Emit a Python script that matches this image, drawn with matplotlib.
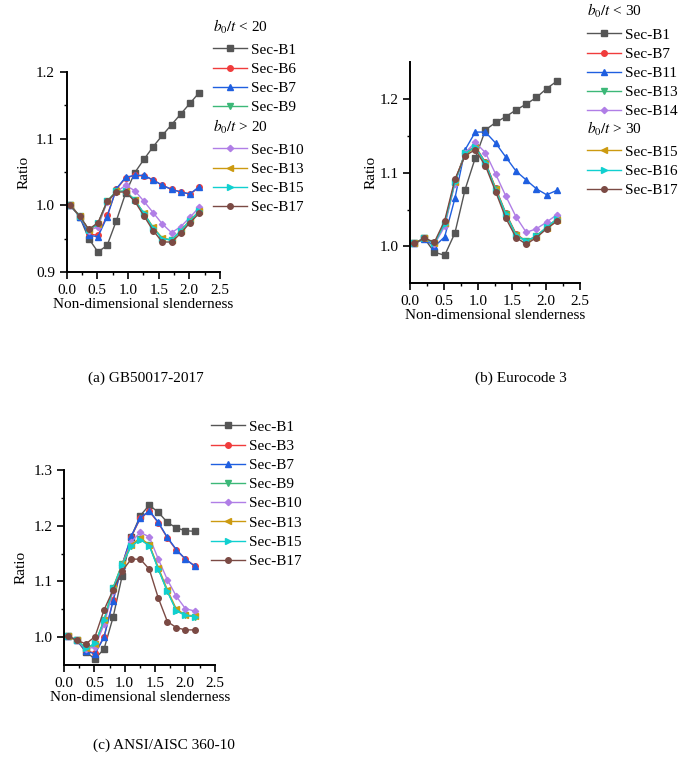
import numpy as np
import matplotlib
matplotlib.use("Agg")
import matplotlib.pyplot as plt
from matplotlib.legend import Legend

plt.rcParams['font.family'] = ['Liberation Serif', 'DejaVu Serif']
plt.rcParams['mathtext.fontset'] = 'stix'
plt.rcParams['font.size'] = 10

# slenderness values shared by all panels
xs = [0.06, 0.21, 0.36, 0.51, 0.66, 0.81, 0.96, 1.11, 1.26, 1.41, 1.56, 1.71, 1.86, 2.01, 2.16]

# (a) GB50017-2017
a_B1 = [1.000, 0.983, 0.950, 0.930, 0.940, 0.977, 1.018, 1.049, 1.069, 1.088, 1.105, 1.121, 1.137, 1.153, 1.169]
a_B6 = [1.000, 0.984, 0.957, 0.955, 0.985, 1.024, 1.041, 1.045, 1.044, 1.038, 1.030, 1.024, 1.020, 1.017, 1.027]
a_B7 = [1.000, 0.983, 0.955, 0.953, 0.983, 1.025, 1.042, 1.045, 1.045, 1.038, 1.030, 1.024, 1.020, 1.017, 1.028]
a_B9 = [1.000, 0.984, 0.963, 0.972, 1.006, 1.021, 1.021, 1.008, 0.987, 0.966, 0.950, 0.948, 0.961, 0.977, 0.990]
a_B10 = [1.000, 0.984, 0.962, 0.968, 1.005, 1.020, 1.030, 1.022, 1.006, 0.989, 0.972, 0.959, 0.968, 0.982, 0.997]
a_B13 = [1.000, 0.984, 0.963, 0.972, 1.006, 1.021, 1.021, 1.008, 0.988, 0.967, 0.951, 0.948, 0.962, 0.978, 0.991]
a_B15 = [1.000, 0.984, 0.963, 0.973, 1.006, 1.021, 1.021, 1.008, 0.988, 0.966, 0.950, 0.948, 0.962, 0.977, 0.991]
a_B17 = [1.000, 0.984, 0.964, 0.974, 1.006, 1.020, 1.020, 1.006, 0.984, 0.962, 0.945, 0.945, 0.958, 0.974, 0.988]

# (b) Eurocode 3
b_B1 = [1.004, 1.011, 0.992, 0.988, 1.018, 1.077, 1.120, 1.158, 1.168, 1.176, 1.185, 1.193, 1.202, 1.214, 1.224]
b_B7 = [1.004, 1.011, 1.004, 1.030, 1.088, 1.127, 1.136, 1.114, 1.079, 1.045, 1.017, 1.007, 1.014, 1.026, 1.037]
b_B11 = [1.004, 1.010, 1.000, 1.013, 1.065, 1.131, 1.155, 1.155, 1.140, 1.121, 1.102, 1.090, 1.078, 1.070, 1.076]
b_B13 = [1.004, 1.011, 1.004, 1.030, 1.087, 1.126, 1.135, 1.113, 1.078, 1.044, 1.016, 1.007, 1.014, 1.026, 1.037]
b_B14 = [1.004, 1.011, 1.003, 1.027, 1.085, 1.127, 1.141, 1.127, 1.098, 1.068, 1.040, 1.019, 1.024, 1.033, 1.043]
b_B15 = [1.004, 1.011, 1.005, 1.032, 1.088, 1.125, 1.134, 1.112, 1.078, 1.043, 1.016, 1.006, 1.013, 1.025, 1.036]
b_B16 = [1.004, 1.011, 1.004, 1.031, 1.087, 1.126, 1.135, 1.113, 1.077, 1.044, 1.015, 1.007, 1.014, 1.026, 1.037]
b_B17 = [1.004, 1.011, 1.006, 1.035, 1.091, 1.123, 1.131, 1.109, 1.074, 1.038, 1.012, 1.003, 1.012, 1.024, 1.034]

# (c) ANSI/AISC 360-10
c_B1 = [1.002, 0.994, 0.973, 0.961, 0.979, 1.036, 1.110, 1.180, 1.218, 1.237, 1.224, 1.206, 1.196, 1.191, 1.190]
c_B3 = [1.002, 0.994, 0.976, 0.971, 1.001, 1.066, 1.130, 1.180, 1.213, 1.226, 1.205, 1.178, 1.156, 1.140, 1.128]
c_B7 = [1.002, 0.994, 0.975, 0.970, 1.000, 1.065, 1.130, 1.181, 1.214, 1.227, 1.206, 1.179, 1.157, 1.140, 1.128]
c_B9 = [1.002, 0.994, 0.980, 0.987, 1.030, 1.089, 1.132, 1.164, 1.176, 1.165, 1.122, 1.082, 1.048, 1.039, 1.037]
c_B10 = [1.002, 0.994, 0.978, 0.983, 1.023, 1.083, 1.130, 1.171, 1.188, 1.180, 1.140, 1.103, 1.073, 1.051, 1.047]
c_B13 = [1.002, 0.994, 0.980, 0.988, 1.031, 1.088, 1.131, 1.166, 1.178, 1.166, 1.125, 1.085, 1.050, 1.040, 1.038]
c_B15 = [1.002, 0.994, 0.980, 0.989, 1.030, 1.088, 1.130, 1.163, 1.175, 1.164, 1.122, 1.082, 1.047, 1.039, 1.037]
c_B17 = [1.002, 0.994, 0.988, 1.001, 1.049, 1.085, 1.119, 1.140, 1.140, 1.122, 1.070, 1.028, 1.017, 1.013, 1.013]

gray = ('#555555', 's')
red = ('#f03c3c', 'o')
blue = ('#1f5fe0', '^')
green = ('#3cb878', 'v')
purple = ('#b07ee6', 'D')
gold = ('#cc9a10', '<')
cyan = ('#10d0d0', '>')
brown = ('#7b4a44', 'o')

fig = plt.figure(figsize=(6.8, 7.64), dpi=100)


def px_axes(x0, y0, x1, y1):
    # pixel box (top-left origin) -> figure axes
    return fig.add_axes([x0 / 680, 1 - y1 / 764, (x1 - x0) / 680, (y1 - y0) / 764])


def style(ax, ylim, yticks, yminor, labelpad=4):
    ax.set_xlim(0, 2.5)
    ax.set_ylim(*ylim)
    ax.set_xticks(np.arange(0, 2.51, 0.5))
    ax.set_xticks(np.arange(0.25, 2.5, 0.5), minor=True)
    ax.set_yticks(yticks)
    ax.set_yticks(yminor, minor=True)
    ax.xaxis.set_major_formatter(matplotlib.ticker.FormatStrFormatter('%.1f'))
    ax.yaxis.set_major_formatter(matplotlib.ticker.FormatStrFormatter('%.1f'))
    for s in ['top', 'right']:
        ax.spines[s].set_visible(False)
    for s in ['left', 'bottom']:
        ax.spines[s].set_linewidth(1.4)
    ax.tick_params(which='major', direction='out', length=5, width=1.2, labelsize=11)
    ax.tick_params(which='minor', direction='out', length=2.5, width=1.0)
    ax.set_xlabel('Non-dimensional slenderness', fontsize=11, labelpad=1)
    ax.set_ylabel('Ratio', fontsize=11, labelpad=labelpad)
    ax.set_facecolor('none')


def draw(ax, series):
    lines = []
    for label, ys, (c, m) in series:
        ms = 3.2 if m == 'D' else 4
        ln, = ax.plot(xs, ys, color=c, marker=m, markersize=ms, linewidth=1.0, label=label)
        lines.append(ln)
    return lines


def add_legend(ax, handles, x, y):
    leg = Legend(ax, handles, [h.get_label() for h in handles], loc='upper left',
                 bbox_to_anchor=(x / 680, 1 - y / 764), bbox_transform=fig.transFigure,
                 frameon=False, borderpad=0, borderaxespad=0,
                 handlelength=2.25, handletextpad=0.22, labelspacing=0.36, fontsize=11)
    ax.add_artist(leg)


# panel a
ax1 = px_axes(66.7, 72, 220, 272)
la = draw(ax1, [('Sec-B1', a_B1, gray), ('Sec-B6', a_B6, red), ('Sec-B7', a_B7, blue),
                ('Sec-B9', a_B9, green), ('Sec-B10', a_B10, purple), ('Sec-B13', a_B13, gold),
                ('Sec-B15', a_B15, cyan), ('Sec-B17', a_B17, brown)])
style(ax1, (0.9, 1.2), [0.9, 1.0, 1.1, 1.2], [0.95, 1.05, 1.15])
fig.text(213 / 680, 1 - 27 / 764, r'$b_{\mathit{0}}/t$ < 20', fontsize=11, va='center')
add_legend(ax1, la[:4], 213, 43)
fig.text(213 / 680, 1 - 127 / 764, r'$b_{\mathit{0}}/t$ > 20', fontsize=11, va='center')
add_legend(ax1, la[4:], 213, 143)

# panel b
ax2 = px_axes(410, 62, 580, 283.3)
lb = draw(ax2, [('Sec-B1', b_B1, gray), ('Sec-B7', b_B7, red), ('Sec-B11', b_B11, blue),
                ('Sec-B13', b_B13, green), ('Sec-B14', b_B14, purple), ('Sec-B15', b_B15, gold),
                ('Sec-B16', b_B16, cyan), ('Sec-B17', b_B17, brown)])
style(ax2, (0.95, 1.25), [1.0, 1.1, 1.2], [1.05, 1.15], labelpad=1)
fig.text(587 / 680, 1 - 11 / 764, r'$b_{\mathit{0}}/t$ < 30', fontsize=11, va='center')
add_legend(ax2, lb[:5], 587, 28)
fig.text(587 / 680, 1 - 129 / 764, r'$b_{\mathit{0}}/t$ > 30', fontsize=11, va='center')
add_legend(ax2, lb[5:], 587, 145)

# panel c
ax3 = px_axes(64.3, 470, 215, 665)
lc = draw(ax3, [('Sec-B1', c_B1, gray), ('Sec-B3', c_B3, red), ('Sec-B7', c_B7, blue),
                ('Sec-B9', c_B9, green), ('Sec-B10', c_B10, purple), ('Sec-B13', c_B13, gold),
                ('Sec-B15', c_B15, cyan), ('Sec-B17', c_B17, brown)])
style(ax3, (0.95, 1.3), [1.0, 1.1, 1.2, 1.3], [1.05, 1.15, 1.25])
add_legend(ax3, lc, 211, 420)

fig.text(146 / 680, 1 - 378 / 764, '(a) GB50017-2017', fontsize=11, ha='center', va='center')
fig.text(521 / 680, 1 - 378 / 764, '(b) Eurocode 3', fontsize=11, ha='center', va='center')
fig.text(164 / 680, 1 - 745 / 764, '(c) ANSI/AISC 360-10', fontsize=11, ha='center', va='center')

fig.savefig('out.png', dpi=100)
